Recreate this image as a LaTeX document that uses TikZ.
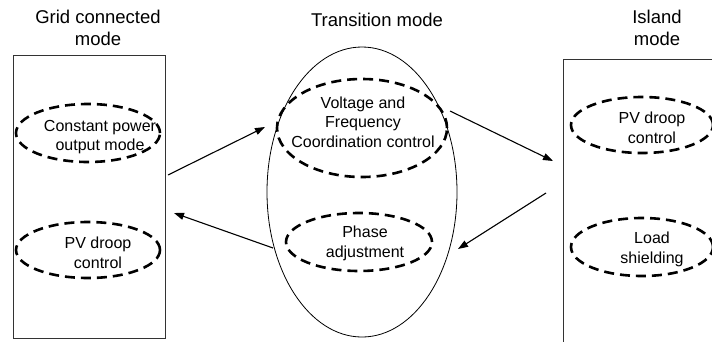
\documentclass[tikz,border=0pt]{standalone}
\usepackage{fontspec}
\setmainfont{Liberation Sans}
\usetikzlibrary{shapes.geometric, arrows.meta, positioning}

\tikzset{
	modebox/.style={draw=black!80, line width=0.9pt, rectangle, inner sep=0pt},
	dashell/.style={draw, ellipse, line width=2.6pt, dash pattern=on 10pt off 6pt, inner sep=0pt},
	bigell/.style={draw, ellipse, line width=0.8pt, inner sep=0pt},
	title/.style={align=center, font=\fontsize{18.5}{22}\selectfont},
	inner/.style={align=center, font=\fontsize{16}{19.5}\selectfont},
	flow/.style={-{Triangle[length=10pt,width=7pt]}, line width=1.1pt}
}

\begin{document}
\begin{tikzpicture}[x=1pt, y=-1pt]
		\useasboundingbox (0,0) rectangle (712,341);
		\clip (0,0) rectangle (712,341);
		% Mode frames
		\node[modebox, minimum width=152pt, minimum height=283pt] (grid) at (89,196.5) {};
		\node[bigell, minimum width=190pt, minimum height=290pt] (trans) at (362,192) {};
		\node[modebox, minimum width=170pt, minimum height=300pt] (island) at (648,209) {};
		% Titles
		\node[title] (gridt) at (98,28) {Grid connected\\mode};
		\node[title] (transt) at (377,20) {Transition mode};
		\node[title] (islandt) at (657,28) {Island\\mode};
		
		% Grid connected mode
		\node[dashell, minimum width=144pt, minimum height=58pt] (cpe) at (88,133) {};
		\node[inner] (cp) at (100,137) {Constant power\\output mode};
		\node[dashell, minimum width=144pt, minimum height=56pt] (gpve) at (88,250) {};
		\node[inner] (gpv) at (98,253) {PV droop\\control};
		
		% Transition mode
		\node[dashell, minimum width=170pt, minimum height=98pt] (vfe) at (362,128) {};
		\node[inner] (vf) at (363,122) {Voltage and\\Frequency\\Coordination control};
		\node[dashell, minimum width=146pt, minimum height=58pt] (phe) at (359,242) {};
		\node[inner] (ph) at (365,243.5) {Phase\\adjustment};
		
		% Island mode
		\node[dashell, minimum width=142pt, minimum height=56pt] (ipve) at (642,125) {};
		\node[inner] (ipv) at (652,128) {PV droop\\control};
		\node[dashell, minimum width=142pt, minimum height=58pt] (lse) at (642,247) {};
		\node[inner] (ls) at (652,249.5) {Load\\shielding};
		
		% Arrow ends
		\coordinate (g1) at (168,175);
		\coordinate (t1) at (265,127);
		\coordinate (t2) at (273,248);
		\coordinate (g2) at (174,213);
		\coordinate (t3) at (450,111);
		\coordinate (i3) at (553,161);
		\coordinate (i4) at (546,193);
		\coordinate (t4) at (458,249);
		\draw[flow] (g1) -- (t1);
		\draw[flow] (t2) -- (g2);
		\draw[flow] (t3) -- (i3);
		\draw[flow] (i4) -- (t4);
\end{tikzpicture}
\end{document}
